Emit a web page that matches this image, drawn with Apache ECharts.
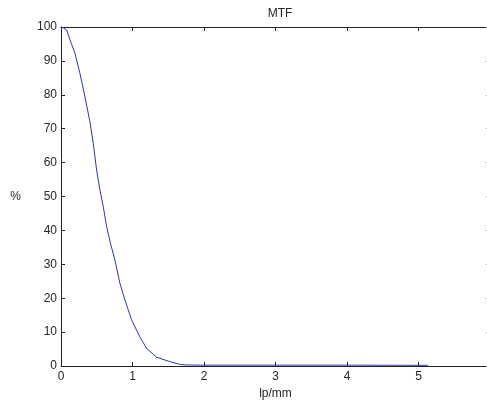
<!DOCTYPE html>
<html>
<head>
<meta charset="utf-8">
<script src="https://cdn.jsdelivr.net/npm/echarts@6/dist/echarts.min.js"></script>
<style>
html,body{margin:0;padding:0;background:#fff;overflow:hidden;}
#chart{width:487px;height:403px;}
</style>
</head>
<body>
<div id="chart"></div>
<script>
const chartTitle = 'MTF';
const xName = 'lp/mm';
const yName = '%';
const freq = [0, 0.03, 0.08, 0.126, 0.196, 0.265, 0.335, 0.405, 0.451, 0.498, 0.545, 0.591, 0.638, 0.694, 0.754, 0.824, 0.894, 0.987, 1.103, 1.197, 1.337, 1.52, 1.66, 1.75, 2.0, 3.0, 4.0, 5.13];
const mtf  = [100, 99.8, 99.1, 96.2, 92.2, 86.3, 79.4, 72.0, 65.7, 57.8, 51.9, 47.0, 41.1, 36.0, 31.3, 24.4, 19.5, 13.6, 8.6, 5.2, 2.6, 1.3, 0.5, 0.3, 0.25, 0.25, 0.25, 0.2];
const xTicks = {min: 0, max: 6, interval: 1};
const yTicks = {min: 0, max: 100, interval: 10};

const points = freq.map((f, i) => [f, mtf[i]]);
const font = 'Liberation Sans, Arial, Helvetica, sans-serif';
const axisColor = '#222';
const textColor = '#262626';
const fs = 12;

const chart = echarts.init(document.getElementById('chart'), null, {renderer: 'canvas'});
const baseAxis = {
  axisLine: {show: true, onZero: false, lineStyle: {color: axisColor, width: 1}},
  axisTick: {show: true, inside: true, length: 4, lineStyle: {color: axisColor}},
  splitLine: {show: false}
};
chart.setOption({
  animation: false,
  backgroundColor: '#fff',
  title: {
    text: chartTitle, left: 275, top: 3, textAlign: 'center',
    textStyle: {fontFamily: font, fontSize: fs, fontWeight: 'normal', color: textColor}
  },
  grid: {left: 61, top: 27, width: 429, height: 339, containLabel: false, outerBoundsMode: 'none'},
  xAxis: [
    Object.assign({}, baseAxis, {
      type: 'value', position: 'bottom', min: xTicks.min, max: xTicks.max, interval: xTicks.interval,
      name: xName, nameLocation: 'middle', nameGap: 19,
      nameTextStyle: {fontFamily: font, fontSize: fs, color: textColor},
      axisLabel: {fontFamily: font, fontSize: fs, color: textColor, margin: 5, showMaxLabel: false}
    }),
    Object.assign({}, baseAxis, {
      type: 'value', position: 'top', min: xTicks.min, max: xTicks.max, interval: xTicks.interval,
      axisLabel: {show: false}
    })
  ],
  yAxis: [
    Object.assign({}, baseAxis, {
      type: 'value', position: 'left', min: yTicks.min, max: yTicks.max, interval: yTicks.interval,
      name: yName, nameLocation: 'middle', nameGap: 40, nameRotate: 0,
      nameTextStyle: {fontFamily: font, fontSize: fs, color: textColor},
      axisLabel: {fontFamily: font, fontSize: fs, color: textColor, margin: 4}
    }),
    Object.assign({}, baseAxis, {
      type: 'value', position: 'right', min: yTicks.min, max: yTicks.max, interval: yTicks.interval,
      axisLine: {show: false, onZero: false},
      axisTick: {show: true, inside: true, length: 4, lineStyle: {color: '#aaa'}},
      axisLabel: {show: false}
    })
  ],
  series: [{
    type: 'line', data: points, xAxisIndex: 0, yAxisIndex: 0,
    showSymbol: false, symbol: 'none', smooth: false,
    lineStyle: {color: '#2b37b0', width: 1},
    clip: true
  }]
});
</script>
</body>
</html>
